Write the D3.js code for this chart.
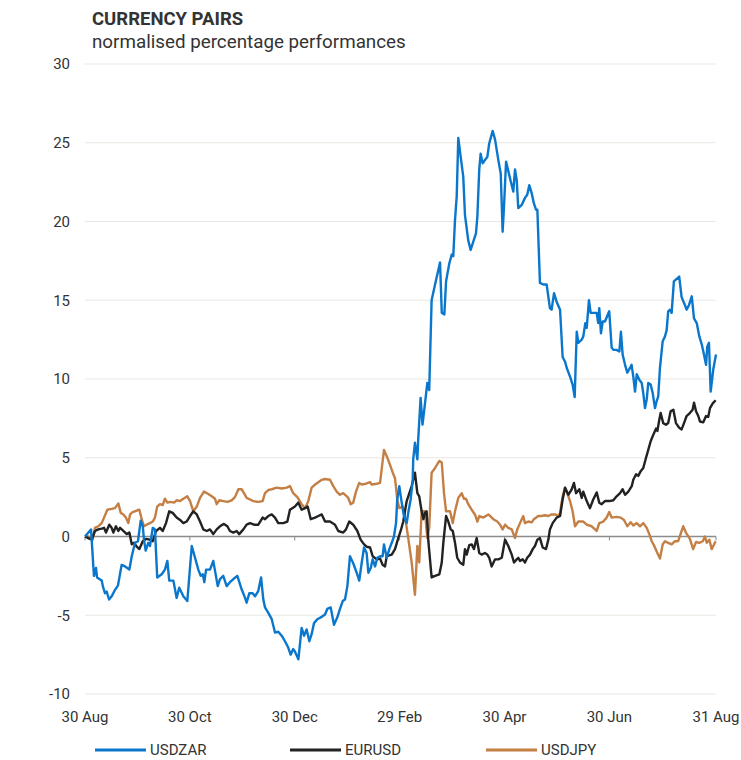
<!DOCTYPE html>
<html>
<head>
<meta charset="utf-8">
<script src="https://cdn.jsdelivr.net/npm/d3@7"></script>
<style>
  body { margin: 0; background: #fff; font-family: Roboto, "Open Sans", sans-serif; }
  text { fill: #333; }
</style>
</head>
<body>
<script>
// chart values: day offsets from 30 Aug 2019, % change
var startDate = Date.UTC(2019, 7, 30),
    endDate = Date.UTC(2020, 7, 31);

var yTicks = [-10, -5, 0, 5, 10, 15, 20, 25, 30];
var xTickDates = ["2019-08-30", "2019-10-30", "2019-12-30", "2020-02-29", "2020-04-30", "2020-06-30", "2020-08-31"];
var xTickLabels = ["30 Aug", "30 Oct", "30 Dec", "29 Feb", "30 Apr", "30 Jun", "31 Aug"];

var seriesNames = ["USDZAR", "EURUSD", "USDJPY"];
var seriesColors = ["#0a77cc", "#222222", "#c47f45"];

var zarDays = [0, 3.5, 5.2, 6.4, 7.0, 9.7, 10.5, 11.6, 12.6, 14.0, 15.5, 17.4, 19.2, 21.3, 23.3, 25.8, 27.2, 29.1, 30.8, 32.4,
    33.6, 34.3, 35.3, 36.8, 37.8, 39.4, 40.7, 42.0, 44.6, 46.5, 47.9, 49.0, 51.4, 53.3, 54.8, 57.2, 59.5, 62.1, 64.0, 65.9,
    67.3, 68.5, 69.4, 70.4, 72.7, 74.6, 77.2, 78.5, 80.4, 82.4, 84.3, 86.3, 88.6, 91.1, 93.1, 94.0, 95.6, 97.5, 98.9, 100.8,
    102.4, 103.7, 104.7, 106.6, 108.6, 110.5, 112.4, 114.4, 116.3, 118.2, 119.6, 121.1, 122.1, 124.1, 126.0, 127.4, 128.9, 130.5, 131.8, 133.2,
    135.1, 137.7, 139.6, 140.9, 142.9, 144.8, 146.7, 148.3, 149.9, 151.2, 152.6, 154.1, 156.0, 158.0, 159.5, 160.9, 162.3, 163.8, 164.8, 166.2,
    167.3, 168.7, 170.0, 171.6, 173.1, 173.9, 175.5, 177.0, 178.4, 179.7, 180.9, 181.6, 182.8, 184.2, 185.5, 187.1, 188.0, 189.4, 190.6, 190.9,
    191.9, 193.3, 193.8, 195.2, 196.3, 197.7, 199.1, 200.2, 201.6, 203.6, 206.5, 207.5, 209.0, 210.0, 211.9, 213.3, 214.2, 215.2, 216.2, 217.1,
    218.5, 220.0, 221.0, 222.9, 224.3, 225.8, 227.4, 228.2, 229.3, 230.1, 231.3, 232.6, 234.0, 235.1, 237.1, 238.5, 240.4, 241.8, 242.9, 243.7,
    244.9, 246.2, 247.6, 249.1, 250.1, 251.1, 252.0, 254.0, 255.9, 257.2, 258.4, 259.8, 261.1, 262.3, 263.1, 264.6, 266.6, 268.5, 270.4, 271.4,
    272.8, 274.3, 276.3, 277.8, 279.2, 280.2, 282.1, 283.6, 284.8, 286.0, 286.9, 288.9, 289.8, 291.0, 291.8, 293.1, 294.1, 295.6, 297.6, 298.5,
    299.1, 300.1, 301.1, 302.4, 304.9, 306.3, 307.3, 309.2, 310.8, 311.7, 312.7, 314.1, 315.4, 317.0, 317.9, 318.9, 319.9, 320.9, 322.4, 323.8,
    324.7, 325.7, 326.7, 327.6, 329.0, 330.2, 331.5, 332.5, 333.4, 334.4, 336.0, 337.3, 338.3, 339.2, 340.2, 341.2, 342.5, 345.6, 347.0, 348.9,
    349.9, 351.3, 352.9, 354.2, 355.8, 357.3, 358.7, 360.0, 361.2, 361.9, 362.9, 363.9, 365.4, 367.0];
var zarVals = [0, 0.45, -2.5, -2.0, -2.6, -2.8, -3.2, -3.6, -3.5, -4.0, -3.8, -3.4, -3.1, -1.8, -1.9, -2.1, -1.25, -0.4, -0.3, 1.0,
    0.65, -0.2, -0.9, -0.4, -0.6, 0.55, 0.45, -2.6, -2.4, -2.1, -1.55, -2.8, -2.8, -3.9, -3.25, -3.8, -4.1, -0.6, -1.35, -2.1,
    -2.5, -2.4, -2.9, -2.1, -2.1, -1.55, -3.15, -2.7, -2.5, -3.15, -2.9, -2.7, -2.5, -3.35, -3.9, -4.2, -3.6, -3.6, -3.8, -3.45,
    -2.6, -4.0, -4.5, -4.85, -5.25, -6.1, -6.05, -6.3, -6.65, -7.05, -7.5, -7.15, -7.3, -7.8, -5.8, -6.3, -5.9, -6.65, -6.2, -5.5,
    -5.25, -5.1, -4.95, -4.6, -4.5, -5.6, -5.15, -4.6, -4.1, -4.0, -3.15, -1.25, -1.7, -2.3, -2.8, -1.7, -0.7, -1.05, -2.3, -2.0,
    -1.45, -1.9, -1.35, -1.25, -1.25, -0.5, -1.35, -0.8, -0.4, 0, 0.85, 2.35, 3.2, 2.15, 1.3, 0.85, 1.5, 2.35, 3.6, 4.9,
    5.95, 4.9, 6.15, 8.8, 7.1, 8.4, 9.75, 9.3, 15.0, 16.0, 17.4, 14.2, 14.1, 16.2, 17.35, 17.9, 17.8, 20.1, 21.6, 25.3,
    24.1, 22.85, 20.4, 18.8, 18.2, 18.7, 19.25, 20.3, 23.3, 24.3, 23.7, 23.9, 24.1, 24.95, 25.75, 25.2, 23.9, 23.05, 19.35, 20.95,
    23.8, 23.2, 22.55, 21.9, 23.3, 22.6, 20.85, 21.05, 21.5, 21.7, 22.3, 21.8, 21.15, 20.75, 20.75, 16.1, 16.0, 16.0, 14.5, 14.4,
    15.45, 14.9, 14.4, 11.4, 11.1, 10.7, 10.15, 9.65, 8.85, 13.0, 12.3, 12.5, 12.7, 13.55, 13.25, 15.0, 14.2, 14.2, 14.2, 13.55,
    14.5, 12.9, 13.65, 13.65, 14.3, 12.0, 11.85, 11.85, 11.75, 13.0, 11.55, 10.9, 10.4, 10.7, 10.9, 10.15, 9.2, 10.3, 9.95, 9.75,
    9.1, 8.15, 8.7, 9.75, 9.65, 9.1, 8.15, 8.6, 8.9, 10.7, 12.4, 12.7, 13.1, 14.3, 14.4, 14.2, 16.2, 16.5, 15.2, 14.7,
    14.4, 14.7, 15.25, 13.85, 13.55, 12.7, 12.2, 11.55, 10.9, 12.05, 12.3, 9.2, 10.6, 11.55];

var eurDays = [0, 1.9, 3.9, 5.8, 7.7, 9.7, 11.1, 12.2, 14.1, 15.5, 16.5, 18.0, 19.4, 20.4, 22.3, 24.3, 25.8, 27.2, 28.5, 30.1,
    31.6, 33.6, 35.5, 37.8, 39.4, 41.3, 43.6, 45.2, 47.1, 49.0, 51.0, 53.3, 55.3, 57.2, 59.1, 61.1, 63.0, 65.0, 66.9, 68.8,
    70.8, 72.7, 74.6, 76.6, 78.5, 80.8, 82.8, 84.3, 86.3, 88.2, 89.7, 92.1, 94.0, 96.0, 98.3, 100.8, 103.3, 104.7, 106.6, 108.6,
    110.5, 112.4, 115.3, 117.7, 119.2, 122.1, 124.1, 126.0, 128.0, 129.5, 131.3, 133.8, 135.7, 137.7, 139.6, 142.5, 145.4, 147.3, 150.2, 151.8,
    153.7, 156.0, 158.4, 160.3, 162.3, 163.8, 165.8, 167.3, 169.7, 171.6, 173.1, 174.5, 175.5, 178.4, 180.3, 182.2, 183.6, 185.1, 187.1, 190.0,
    191.9, 193.3, 194.4, 195.8, 196.8, 197.7, 198.7, 199.7, 201.6, 203.6, 206.1, 207.5, 208.4, 210.0, 211.3, 212.7, 213.9, 215.2, 216.5, 218.1,
    220.0, 221.0, 222.0, 223.5, 224.9, 226.2, 227.8, 229.3, 230.7, 232.6, 234.0, 235.1, 236.5, 238.5, 240.4, 242.4, 244.3, 246.2, 248.2, 249.5,
    251.1, 252.0, 253.0, 254.6, 255.9, 257.2, 258.8, 260.4, 261.7, 263.1, 264.6, 266.2, 268.1, 269.5, 270.4, 272.0, 274.3, 276.3, 277.8, 279.2,
    281.1, 283.1, 284.4, 285.6, 287.5, 288.9, 289.8, 291.8, 293.7, 295.6, 297.6, 299.1, 300.5, 302.4, 304.9, 307.3, 309.2, 311.2, 312.7, 314.1,
    316.0, 318.0, 318.9, 320.5, 321.8, 323.2, 324.7, 326.3, 327.6, 329.0, 330.5, 332.1, 332.9, 334.0, 334.8, 336.3, 337.9, 339.2, 340.6, 342.2,
    343.7, 345.6, 347.0, 348.4, 349.9, 351.9, 353.4, 354.2, 355.4, 356.7, 357.7, 359.6, 361.2, 362.5, 363.5, 365.1, 366.8];
var eurVals = [0, -0.1, -0.2, 0.35, 0.45, 0.5, 0.55, 0.25, 0.75, 0.55, 0.25, 0.65, 0.35, 0.55, 0.35, 0.15, 0.25, -0.5, -0.4, -0.65,
    -0.8, -0.3, -0.15, -0.2, -0.3, 0.35, 0.55, 0.35, 0.85, 1.6, 1.5, 1.2, 1.05, 0.85, 0.95, 1.3, 1.6, 1.4, 0.95, 0.45,
    0.35, 0.45, 0.15, 0.45, 0.65, 0.8, 0.65, 0.35, 0.25, 0.35, 0.15, 0.45, 0.75, 0.85, 0.75, 0.75, 1.2, 1.1, 1.3, 1.4,
    1.2, 0.85, 0.85, 0.95, 1.7, 1.9, 2.15, 1.7, 1.8, 1.9, 1.1, 1.2, 1.3, 1.4, 0.95, 0.95, 0.75, 0.35, 0.25, 0.45,
    0.95, 0.75, 0.35, -0.2, -0.5, -0.65, -0.7, -1.25, -1.45, -1.4, -1.8, -1.9, -1.25, -1.15, -0.8, -0.1, 0.35, 0.95, 2.25, 3.2,
    4.05, 2.75, 2.55, 1.6, 1.1, 1.5, 1.6, -0.3, -2.6, -2.5, -2.4, -1.65, -0.4, 1.3, 0.95, 0.45, 0.35, -0.4, -1.35, -1.65,
    -1.8, -0.8, -1.15, -0.55, -0.5, -0.8, -0.1, -1.05, -1.15, -1.05, -1.15, -1.35, -1.9, -1.45, -1.45, -1.35, -0.2, -0.6, -1.15, -1.65,
    -1.45, -1.35, -1.55, -1.45, -1.65, -1.35, -1.15, -0.8, -0.6, -0.2, -0.1, -0.7, -0.8, -0.2, 0.45, 0.85, 1.2, 1.3, 2.35, 3.1,
    2.65, 3.0, 3.4, 2.75, 3.0, 2.45, 2.85, 2.25, 1.8, 2.35, 2.8, 2.15, 2.05, 2.25, 2.25, 2.3, 2.55, 2.75, 3.0, 2.65,
    2.85, 3.2, 3.6, 3.95, 3.85, 4.15, 4.35, 5.0, 5.5, 6.05, 6.45, 6.85, 6.7, 7.4, 7.85, 7.2, 7.1, 7.2, 7.95, 8.05,
    7.2, 6.9, 6.8, 7.2, 7.65, 7.85, 8.05, 8.5, 7.95, 7.65, 7.3, 7.25, 7.65, 7.6, 8.15, 8.45, 8.65];

var jpyDays = [0, 1.9, 4.5, 5.8, 7.7, 9.7, 11.1, 13.0, 15.5, 17.4, 19.4, 20.8, 22.3, 23.8, 25.2, 26.2, 27.7, 30.1, 31.6, 33.0,
    34.3, 35.9, 37.8, 39.4, 40.7, 42.0, 43.6, 45.2, 46.5, 47.9, 49.8, 51.8, 53.3, 55.3, 57.2, 59.5, 61.1, 63.0, 65.0, 66.9,
    69.2, 71.7, 73.7, 75.6, 76.6, 78.1, 80.4, 82.8, 85.3, 87.2, 89.2, 91.1, 92.5, 94.0, 96.0, 97.9, 100.8, 103.3, 104.7, 106.6,
    108.6, 111.5, 114.4, 117.3, 119.2, 121.1, 123.5, 126.0, 128.0, 129.9, 131.8, 133.8, 135.7, 137.7, 139.6, 142.5, 144.4, 146.4, 148.3, 150.2,
    151.8, 153.1, 154.5, 156.0, 157.6, 159.5, 160.9, 163.4, 165.8, 166.7, 169.7, 171.6, 173.9, 175.5, 177.4, 179.0, 180.3, 181.6, 182.8, 184.8,
    186.1, 188.0, 190.0, 191.9, 193.3, 194.4, 195.8, 197.7, 199.1, 200.2, 201.6, 203.6, 206.1, 207.5, 208.8, 210.0, 212.3, 213.9, 215.2, 217.1,
    219.1, 220.4, 221.6, 222.9, 224.9, 226.8, 228.2, 229.3, 231.7, 234.6, 237.5, 239.8, 241.4, 242.9, 244.3, 246.2, 248.2, 250.1, 251.4, 253.0,
    254.9, 255.9, 257.8, 259.8, 261.1, 263.6, 265.6, 267.5, 269.5, 271.4, 273.4, 275.3, 276.3, 277.8, 279.2, 280.5, 282.1, 283.6, 285.0, 286.9,
    289.8, 291.8, 294.7, 297.6, 299.1, 301.4, 303.4, 304.9, 306.3, 309.2, 311.6, 313.5, 315.4, 317.4, 318.9, 320.9, 322.8, 324.7, 326.7, 328.2,
    329.6, 330.9, 332.5, 334.4, 336.0, 337.3, 339.2, 341.2, 343.1, 345.0, 347.9, 349.5, 351.8, 353.7, 355.4, 357.3, 359.3, 360.6, 361.6, 363.1,
    364.5, 365.4, 366.8];
var jpyVals = [0, 0, -0.2, 0.55, 0.65, 0.85, 1.2, 1.7, 1.75, 1.8, 2.1, 1.5, 1.4, 1.2, 0.85, 1.4, 1.55, 1.65, 1.7, 1.1,
    0.65, 0.75, 0.85, 0.95, 1.2, 1.9, 2.05, 2.0, 2.4, 2.15, 2.2, 2.15, 2.3, 2.25, 2.4, 2.55, 2.25, 1.6, 1.9, 2.45,
    2.85, 2.7, 2.55, 2.4, 2.05, 2.3, 2.25, 2.2, 2.3, 2.5, 3.0, 3.0, 2.75, 2.45, 2.35, 2.25, 2.2, 2.25, 2.75, 2.95,
    3.0, 3.1, 3.05, 3.1, 3.2, 2.75, 2.5, 2.05, 1.8, 2.25, 3.1, 3.3, 3.45, 3.6, 3.65, 3.6, 3.2, 2.85, 2.65, 2.75,
    2.6, 2.45, 2.05, 2.15, 2.85, 3.4, 3.3, 3.35, 3.45, 3.3, 3.35, 3.4, 5.5, 5.1, 4.55, 4.05, 3.7, 2.35, 1.8, 1.9,
    1.3, -0.1, -1.65, -3.7, -0.6, -1.65, 1.6, 1.6, -0.1, 0.55, 4.05, 4.35, 4.8, 4.7, 2.75, 1.6, 1.6, 0.85, 1.6, 2.45,
    2.75, 2.4, 2.4, 2.05, 1.7, 1.4, 0.95, 1.3, 1.2, 1.4, 1.1, 0.95, 0.75, 0.45, 0.75, 0.55, 0.45, -0.1, 0.45, 0.85,
    1.3, 0.85, 0.95, 0.9, 1.1, 1.3, 1.3, 1.35, 1.3, 1.4, 1.4, 1.3, 1.5, 2.55, 3.1, 2.75, 2.25, 1.6, 0.65, 0.95,
    0.95, 0.75, 0.65, 0.35, 0.85, 0.95, 1.2, 1.55, 1.2, 1.25, 1.2, 1.05, 0.65, 0.9, 0.7, 0.85, 0.65, 0.85, 0.55, 0.15,
    -0.3, -0.55, -0.95, -1.4, -0.5, -0.3, -0.4, -0.5, -0.3, -0.3, 0.65, 0.25, -0.15, -0.8, -0.35, -0.4, -0.3, 0, -0.4, -0.2,
    -0.8, -0.6, -0.3];

var allDays = [zarDays, eurDays, jpyDays],
    allVals = [zarVals, eurVals, jpyVals];

var width = 741,
    height = 760;
var margin = {left: 85, right: 25, top: 64, bottom: 66};

var svg = d3.select("body").append("svg")
    .attr("width", width)
    .attr("height", height);

var x = d3.scaleUtc()
    .domain([new Date(startDate), new Date(endDate)])
    .range([margin.left, width - margin.right]);

var y = d3.scaleLinear()
    .domain([-10, 30])
    .range([height - margin.bottom, margin.top]);

function dayToDate(d) {
  return new Date(startDate + d * 864e5);
}

// title
svg.append("text")
    .attr("x", 92)
    .attr("y", 25)
    .style("font-size", "18.5px")
    .style("font-weight", "bold")
    .text("CURRENCY PAIRS");

svg.append("text")
    .attr("x", 92)
    .attr("y", 48)
    .style("font-size", "18.8px")
    .text("normalised percentage performances");

// gridlines
svg.append("g").selectAll("line")
    .data(yTicks.filter(function(d) { return d != 0; }))
  .enter().append("line")
    .attr("x1", x.range()[0])
    .attr("x2", x.range()[1])
    .attr("y1", function(d) { return y(d); })
    .attr("y2", function(d) { return y(d); })
    .attr("stroke", "#e9e7e0")
    .attr("stroke-width", 1);

// y labels
svg.append("g").selectAll("text")
    .data(yTicks)
  .enter().append("text")
    .attr("x", 70)
    .attr("y", function(d) { return y(d); })
    .attr("dy", "0.35em")
    .attr("text-anchor", "end")
    .style("font-size", "15px")
    .text(function(d) { return String(d); });

// zero line + ticks
var tickDates = xTickDates.map(function(s) { return d3.isoParse(s + "T00:00:00Z"); });

svg.append("g").selectAll("line")
    .data(tickDates)
  .enter().append("line")
    .attr("x1", function(d) { return x(d); })
    .attr("x2", function(d) { return x(d); })
    .attr("y1", y(0))
    .attr("y2", y(0) + 4)
    .attr("stroke", "#8c8c8c")
    .attr("stroke-width", 1);

svg.append("line")
    .attr("x1", x.range()[0])
    .attr("x2", x.range()[1])
    .attr("y1", y(0))
    .attr("y2", y(0))
    .attr("stroke", "#8c8c8c")
    .attr("stroke-width", 1.5);

// x labels
svg.append("g").selectAll("text")
    .data(tickDates)
  .enter().append("text")
    .attr("x", function(d) { return x(d); })
    .attr("y", 722)
    .attr("text-anchor", "middle")
    .style("font-size", "15px")
    .text(function(d, i) { return xTickLabels[i]; });

// lines
var line = d3.line()
    .x(function(d) { return x(dayToDate(d[0])); })
    .y(function(d) { return y(d[1]); });

// draw order: orange and black under blue where they cross
[2, 1, 0].forEach(function(i) {
  var pts = allDays[i].map(function(d, j) { return [d, allVals[i][j]]; });
  svg.append("path")
      .datum(pts)
      .attr("fill", "none")
      .attr("stroke", seriesColors[i])
      .attr("stroke-width", 2.4)
      .attr("stroke-linejoin", "round")
      .attr("d", line);
});

// legend
var legendX = [95, 290, 486];
var legend = svg.append("g").selectAll("g")
    .data(seriesNames)
  .enter().append("g")
    .attr("transform", function(d, i) { return "translate(" + legendX[i] + ",750)"; });

legend.append("line")
    .attr("x1", 0)
    .attr("x2", 51)
    .attr("stroke", function(d, i) { return seriesColors[i]; })
    .attr("stroke-width", 3);

legend.append("text")
    .attr("x", 55)
    .attr("dy", "0.35em")
    .style("font-size", "15px")
    .text(function(d) { return d; });
</script>
</body>
</html>
